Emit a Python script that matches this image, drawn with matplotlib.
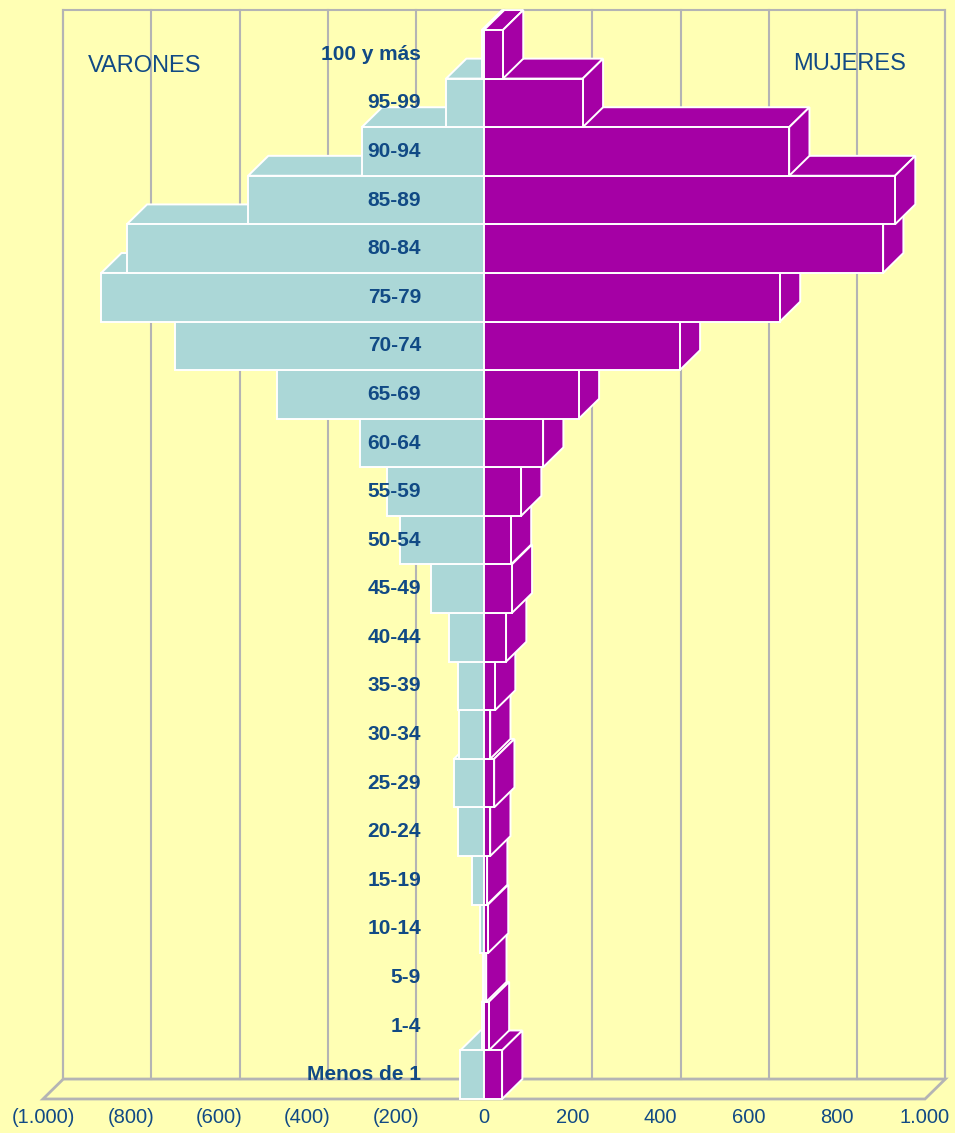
import matplotlib
matplotlib.use("Agg")
import matplotlib.pyplot as plt
from matplotlib.patches import Polygon

# grupos de edad, de arriba hacia abajo
grupos = ["100 y más", "95-99", "90-94", "85-89", "80-84", "75-79", "70-74",
          "65-69", "60-64", "55-59", "50-54", "45-49", "40-44", "35-39",
          "30-34", "25-29", "20-24", "15-19", "10-14", "5-9", "1-4", "Menos de 1"]
varones = [5, 86, 277, 535, 810, 868, 701, 470, 282, 221, 190, 120, 79, 59,
           57, 68, 59, 27, 9, 2, 5, 54]
mujeres = [43, 224, 692, 932, 905, 671, 444, 215, 134, 84, 61, 63, 50, 25,
           14, 23, 14, 7, 9, 5, 11, 41]
ticks = [-1000, -800, -600, -400, -200, 0, 200, 400, 600, 800, 1000]
tick_labels = ["(1.000)", "(800)", "(600)", "(400)", "(200)", "0",
               "200", "400", "600", "800", "1.000"]

BG = "#FFFFB4"
C_VAR = "#ABD7D7"
C_MUJ = "#A500A5"
TXT = "#114A85"
GRID = "#B4B4B4"

n = len(grupos)
# profundidad 3D (en unidades de datos)
DX = 46
DY = 0.41

fig = plt.figure(figsize=(9.55, 11.33), dpi=100)
fig.patch.set_facecolor(BG)
ax = fig.add_axes([0, 0, 1, 1])
ax.set_facecolor(BG)
ax.set_xlim(-1097.5, 1068.0)
ax.set_ylim(-0.70, n + 0.617)
ax.axis("off")

# pared del fondo y suelo
ax.add_patch(Polygon([(-1000 + DX, DY), (1000 + DX, DY), (1000 + DX, n + DY),
                      (-1000 + DX, n + DY)], closed=True, facecolor=BG,
                     edgecolor=GRID, lw=1.5, zorder=1))
ax.add_patch(Polygon([(-1000, 0), (1000, 0), (1000 + DX, DY), (-1000 + DX, DY)],
                     closed=True, facecolor=BG, edgecolor=GRID, lw=2, zorder=1))
for t in ticks:
    ax.plot([t + DX, t + DX], [DY, n + DY], color=GRID, lw=1.5, zorder=1)
for t, lab in zip(ticks, tick_labels):
    ax.text(t, -0.39, lab, ha="center", va="center", fontsize=14.5,
            color=TXT, family="Liberation Sans")


def caja(x0, x1, y0, color, lado=True, z=2):
    y1 = y0 + 1
    kw = dict(closed=True, facecolor=color, edgecolor="white", lw=1.4,
              joinstyle="miter", zorder=z)
    # cara superior
    ax.add_patch(Polygon([(x0, y1), (x1, y1), (x1 + DX, y1 + DY),
                          (x0 + DX, y1 + DY)], **kw))
    # cara lateral
    if lado:
        ax.add_patch(Polygon([(x1, y0), (x1 + DX, y0 + DY), (x1 + DX, y1 + DY),
                              (x1, y1)], **kw))
    # cara frontal
    ax.add_patch(Polygon([(x0, y0), (x1, y0), (x1, y1), (x0, y1)], **kw))


# de abajo hacia arriba para que las filas superiores tapen las inferiores
for i in range(n - 1, -1, -1):
    y0 = n - 1 - i
    caja(-varones[i], 0, y0, C_VAR, lado=False)
    caja(0, mujeres[i], y0, C_MUJ)

for i, g in enumerate(grupos):
    ax.text(-143, n - 1 - i + 0.5, g, ha="right", va="center", fontsize=15,
            fontweight="bold", color=TXT, family="Liberation Sans", zorder=10)

ax.text(-769, 21.26, "VARONES", ha="center", va="center", fontsize=17,
        color=TXT, family="Liberation Sans", zorder=10)
ax.text(830, 21.30, "MUJERES", ha="center", va="center", fontsize=17,
        color=TXT, family="Liberation Sans", zorder=10)

fig.savefig("out.png", dpi=100, facecolor=BG)
